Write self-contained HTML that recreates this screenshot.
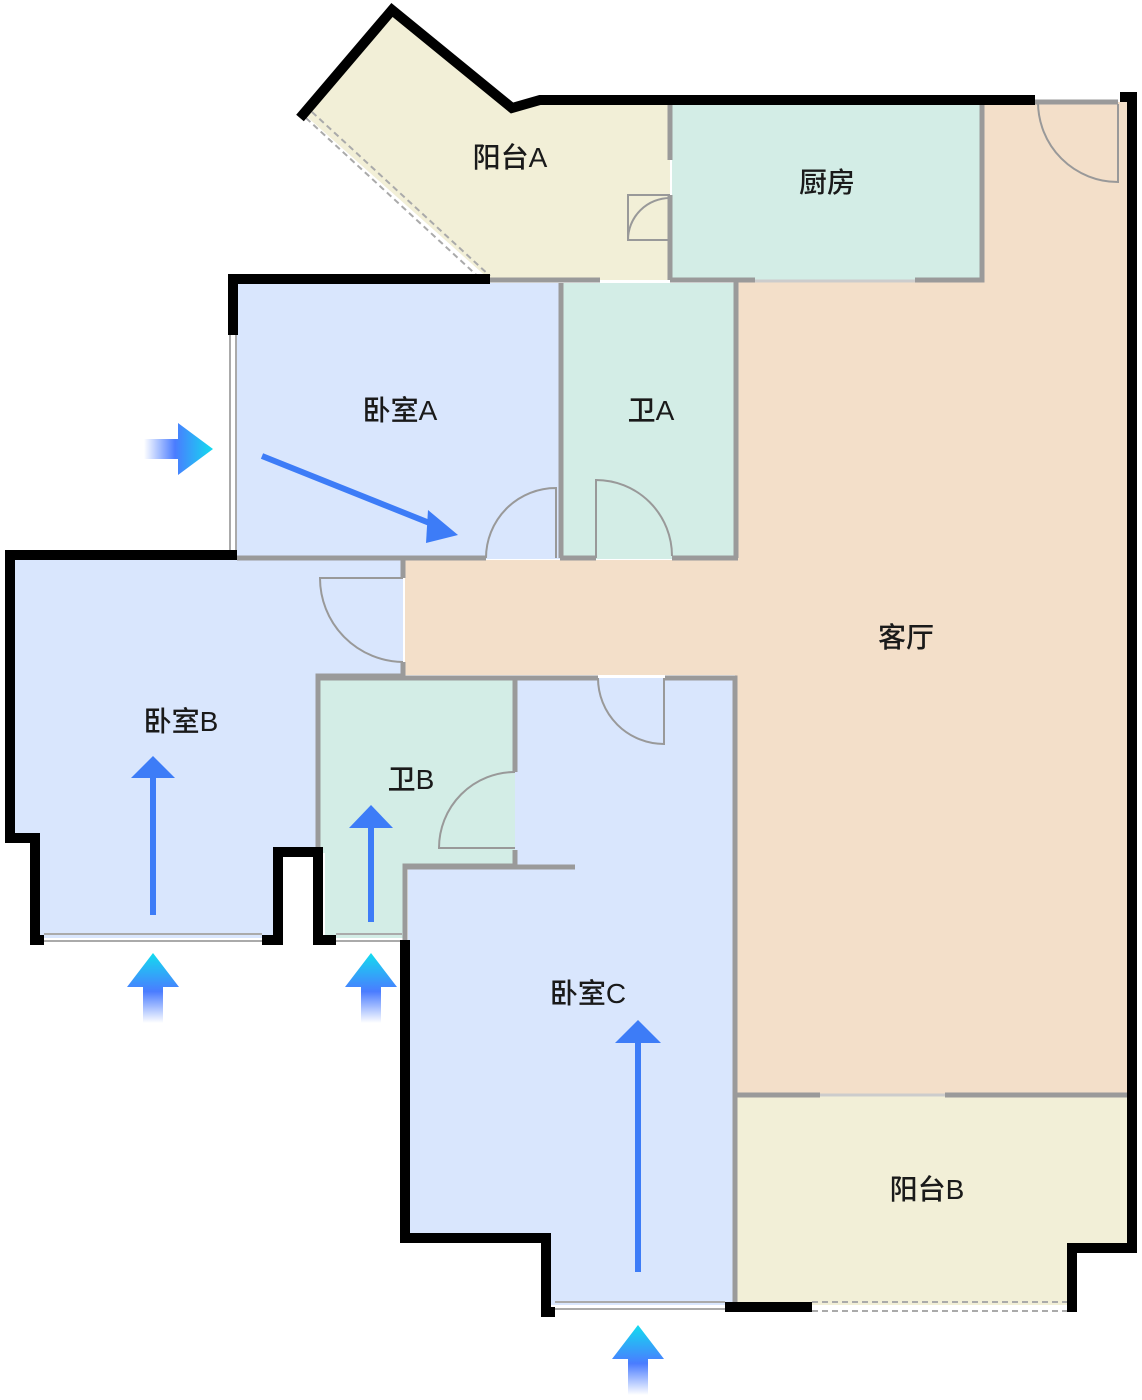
<!DOCTYPE html>
<html><head><meta charset="utf-8"><style>html,body{margin:0;padding:0;background:#fff}svg{display:block}text{font-family:"Liberation Sans","Noto Sans CJK SC",sans-serif;font-size:28px;fill:#1a1a1a;font-weight:500}</style></head><body>
<svg width="1142" height="1400" viewBox="0 0 1142 1400" xmlns="http://www.w3.org/2000/svg">
<defs>
<linearGradient id="ga" x1="0" y1="0" x2="0" y2="1"><stop offset="0" stop-color="#12dcef"/><stop offset="0.55" stop-color="#4a7cff"/><stop offset="1" stop-color="#4a7cff" stop-opacity="0"/></linearGradient>
<linearGradient id="gh" x1="1" y1="0" x2="0" y2="0"><stop offset="0" stop-color="#12dcef"/><stop offset="0.55" stop-color="#4a7cff"/><stop offset="1" stop-color="#4a7cff" stop-opacity="0"/></linearGradient>
<g id="ua"><path d="M0,0 L26,34 L10,34 L10,70 L-10,70 L-10,34 L-26,34 Z" fill="url(#ga)"/></g>
</defs>
<polygon points="305,115 392,12 512,110 540,100 670,100 670,280 490,280" fill="#f2efd7"/>
<rect x="672" y="102" width="310" height="178" fill="#d3ede6"/>
<polygon points="735,280 982,280 982,102 1127,102 1127,1095 735,1095 735,675 405,675 405,560 735,560" fill="#f3dfc9"/>
<rect x="237" y="283" width="324" height="276" fill="#d9e6fd"/>
<rect x="562" y="283" width="173" height="276" fill="#d3ede6"/>
<polygon points="12,560 403,560 403,675 318,675 318,853 280,853 280,938 40,938 40,838 12,838" fill="#d9e6fd"/>
<polygon points="318,678 515,678 515,865 405,865 405,938 325,938 325,853 318,853" fill="#d3ede6"/>
<polygon points="515,678 735,678 735,1305 550,1305 550,1235 408,1235 408,868 515,868" fill="#d9e6fd"/>
<polygon points="735,1095 1127,1095 1127,1250 1072,1250 1072,1305 735,1305" fill="#f2efd7"/>
<g stroke="#9a9a9a" stroke-width="5" fill="none">
<path d="M670,100 V160 M670,195 V280"/>
<path d="M490,280 H600 M670,280 H755 M915,280 H982 V102"/>
<path d="M561,283 V558"/>
<path d="M736,280 V558"/>
<path d="M237,558 H486 M560,558 H596 M672,558 H738"/>
<path d="M403,560 V578 M403,662 V676 H318 V853"/>
<path d="M318,678 H598 M665,678 H735 V1095 H820 M945,1095 H1130"/>
<path d="M515,678 V772 M515,850 V866 H405 V940 M405,867 H575"/>
<path d="M735,1095 V1305"/>
<path d="M1035,102 H1118"/>
</g>
<g stroke="#999" stroke-width="2" fill="none">
<path d="M670,195 L628,195 L628,240 L670,240 M628,240 A42,42 0 0 1 670,198"/>
<path d="M486,558 A70,70 0 0 1 556,488 L556,558"/>
<path d="M596,558 L596,480 A76,76 0 0 1 672,556"/>
<path d="M403,578 L320,578 A84,84 0 0 0 403,662"/>
<path d="M598,678 A66,66 0 0 0 664,744 L664,678"/>
<path d="M515,772 A76,76 0 0 0 439,848 L515,848"/>
<path d="M1118,104 L1118,182 A80,80 0 0 1 1038,102"/>
<path d="M755,281 L915,281" stroke="#ccc" stroke-width="3"/>
<path d="M820,1095 L945,1095" stroke="#ccc" stroke-width="3"/>
</g>
<g stroke="#aaa" stroke-width="2" fill="none">
<path d="M230,335 V550 M236,335 V550"/>
<path d="M44,934 H262 M44,941 H262"/>
<path d="M336,934 H402 M336,941 H402"/>
<path d="M555,1302 H725 M555,1309 H725"/>
<path d="M306,118 L484,282 M312,112 L490,276" stroke-dasharray="6,4"/>
<path d="M812,1302 H1068 M812,1311 H1068" stroke-dasharray="6,4"/>
</g>
<g stroke="#000" stroke-width="10" fill="none" stroke-linejoin="miter">
<polyline points="300,118 392,10 512,108 540,100 1035,100"/>
<polyline points="1120,97 1132,97 1132,1248 1072,1248 1072,1312"/>
<polyline points="490,279 233,279 233,335"/>
<polyline points="237,555 10,555 10,838 35,838 35,940 44,940"/>
<polyline points="262,940 278,940 278,852 318,852 318,940 336,940"/>
<polyline points="405,940 405,1238 546,1238 546,1312 555,1312"/>
<polyline points="725,1307 812,1307"/>
</g>
<g stroke="#3d7cf7" stroke-width="6" fill="#3d7cf7">
<line x1="262" y1="456" x2="432" y2="524"/><polygon points="458,535 428,510 426,543" stroke="none"/>
<line x1="153" y1="915" x2="153" y2="775"/><polygon points="153,756 131,778 175,778" stroke="none"/>
<line x1="371" y1="922" x2="371" y2="825"/><polygon points="371,805 349,828 393,828" stroke="none"/>
<line x1="638" y1="1272" x2="638" y2="1040"/><polygon points="638,1020 615,1043 661,1043" stroke="none"/>
</g>
<use href="#ua" x="153" y="953"/>
<use href="#ua" x="371" y="953"/>
<use href="#ua" x="638" y="1325"/>
<path d="M213,449 L178,423 L178,439 L144,439 L144,459 L178,459 L178,475 Z" fill="url(#gh)"/>
<text x="510" y="167" text-anchor="middle">阳台A</text>
<text x="827" y="192" text-anchor="middle">厨房</text>
<text x="400" y="420" text-anchor="middle">卧室A</text>
<text x="651" y="420" text-anchor="middle">卫A</text>
<text x="906" y="647" text-anchor="middle">客厅</text>
<text x="181" y="731" text-anchor="middle">卧室B</text>
<text x="411" y="789" text-anchor="middle">卫B</text>
<text x="588" y="1003" text-anchor="middle">卧室C</text>
<text x="927" y="1199" text-anchor="middle">阳台B</text>
</svg>
</body></html>
